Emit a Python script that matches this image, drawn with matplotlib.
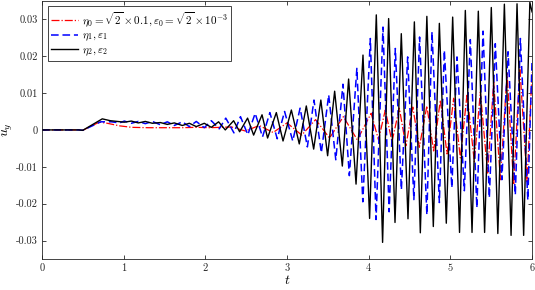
import numpy as np
import matplotlib
matplotlib.use("Agg")
import matplotlib.pyplot as plt

plt.rcParams['font.family'] = ['cmr10']
plt.rcParams['mathtext.fontset'] = 'cm'
plt.rcParams['axes.unicode_minus'] = False
plt.rcParams['axes.formatter.use_mathtext'] = False

# extrema of each response (t, u_y)
t0 = [0.0, 0.45, 0.50, 0.70, 0.80, 0.95, 1.10, 1.30, 1.50, 1.70, 1.90, 2.05,
      2.32, 2.49, 2.66, 2.83, 3.00, 3.18, 3.35, 3.52, 3.69, 3.86, 4.03, 4.12,
      4.203, 4.285, 4.375, 4.455, 4.540, 4.620, 4.712, 4.795, 4.877, 4.959,
      5.040, 5.122, 5.204, 5.293, 5.367, 5.456, 5.530, 5.612, 5.694, 5.775,
      5.850, 5.939, 6.0]
u0 = [0.0, 0.0, -0.0001, 0.0021, 0.0018, 0.0011, 0.0007, 0.0006, 0.0006, 0.0006, 0.0007, 0.0006,
      0.0008, -0.0003, 0.0012, -0.0007, 0.0019, -0.0014, 0.0028, -0.0022, 0.0036, -0.0027, 0.0045, -0.0027,
      0.0054, -0.0032, 0.0059, -0.0043, 0.0062, -0.0047, 0.0065, -0.0057, 0.0081, -0.0065,
      0.0086, -0.0076, 0.0097, -0.0086, 0.0103, -0.0117, 0.0130, -0.0135, 0.0153, -0.0149,
      0.0171, -0.0140, 0.0157]

t1 = [0.0, 0.45, 0.50, 0.72, 0.85, 0.95,
      1.008, 1.093, 1.179, 1.265, 1.351, 1.449, 1.534, 1.620, 1.718, 1.804, 1.889, 1.987, 2.073, 2.17,
      2.25, 2.35, 2.43, 2.52, 2.61, 2.70, 2.79, 2.88, 2.97, 3.07, 3.16, 3.249, 3.33, 3.420,
      3.51, 3.597, 3.685, 3.763, 3.855, 3.928, 4.02, 4.09, 4.175, 4.25, 4.326, 4.40,
      4.477, 4.553, 4.623, 4.712, 4.775, 4.865, 4.926, 5.018, 5.081, 5.171, 5.244, 5.324,
      5.400, 5.477, 5.550, 5.630, 5.706, 5.795, 5.857, 5.948, 6.0]
u1 = [0.0, 0.0, -0.0001, 0.0022, 0.0022, 0.0019,
      0.0024, 0.0018, 0.0023, 0.0017, 0.0023, 0.0014, 0.0022, 0.0012, 0.0022, 0.0009, 0.0023, 0.0006, 0.0025, 0.0003,
      0.0032, -0.0008, 0.0036, -0.0013, 0.0045, -0.0019, 0.0047, -0.0024, 0.0050, -0.0030, 0.0059, -0.0046, 0.0081, -0.0062,
      0.0095, -0.0081, 0.0124, -0.0124, 0.0167, -0.0195, 0.0248, -0.0243, 0.0279, -0.0222, 0.0221, -0.0162,
      0.0198, -0.0189, 0.0252, -0.0230, 0.0266, -0.0197, 0.0216, -0.0157, 0.0198, -0.0165, 0.0245, -0.0211,
      0.0268, -0.0184, 0.0234, -0.0135, 0.0212, -0.0176, 0.0248, -0.0190, 0.0190]

t2 = [0.0, 0.45, 0.50, 0.738, 0.836, 0.922,
      1.008, 1.093, 1.179, 1.265, 1.351, 1.449, 1.534, 1.620, 1.718, 1.804, 1.889, 1.987, 2.073, 2.162,
      2.244, 2.346, 2.420, 2.517, 2.591, 2.694, 2.762, 2.869, 2.951, 3.053, 3.150, 3.236, 3.326, 3.414,
      3.497, 3.583, 3.677, 3.754, 3.845, 3.930, 4.011, 4.093, 4.170, 4.244, 4.322, 4.399,
      4.481, 4.559, 4.632, 4.712, 4.791, 4.865, 4.950, 5.028, 5.112, 5.183, 5.265, 5.342,
      5.419, 5.501, 5.581, 5.661, 5.743, 5.816, 5.897, 5.973, 6.0]
u2 = [0.0, 0.0, -0.0001, 0.0030, 0.0025, 0.0023,
      0.0021, 0.0024, 0.0019, 0.0023, 0.0018, 0.0020, 0.0015, 0.0019, 0.0012, 0.0018, 0.0009, 0.0018, 0.0007, 0.0022,
      0.0, 0.0025, -0.0005, 0.0032, -0.0014, 0.0041, -0.0022, 0.0047, -0.0030, 0.0054, -0.0038, 0.0065, -0.0052, 0.0081,
      -0.0070, 0.0105, -0.0098, 0.0138, -0.0147, 0.0203, -0.0240, 0.0312, -0.0305, 0.0302, -0.0251, 0.0261,
      -0.0241, 0.0293, -0.0279, 0.0308, -0.0262, 0.0289, -0.0253, 0.0306, -0.0278, 0.0324, -0.0278, 0.0322,
      -0.0278, 0.0332, -0.0281, 0.0341, -0.0286, 0.0342, -0.0286, 0.0346, 0.0320]

labels = [r'$\eta_0=\sqrt{2}\times0.1,\varepsilon_0=\sqrt{2}\times10^{-3}$',
          r'$\eta_1,\varepsilon_1$',
          r'$\eta_2,\varepsilon_2$']
xticks = [0, 1, 2, 3, 4, 5, 6]
yticks = [-0.03, -0.02, -0.01, 0, 0.01, 0.02, 0.03]
ytick_labels = ['-0.03', '-0.02', '-0.01', '0', '0.01', '0.02', '0.03']

fig = plt.figure(figsize=(5.35, 2.9), dpi=100)
ax = fig.add_axes([0.0785, 0.107, 0.916, 0.89])

ax.plot(t0, u0, color='r', ls='-.', lw=0.9, label=labels[0])
ax.plot(t1, u1, color='b', ls=(0, (5, 2.5)), lw=1.1, label=labels[1])
ax.plot(t2, u2, color='k', ls='-', lw=1.0, label=labels[2])

ax.set_xlim(0, 6)
ax.set_ylim(-0.035, 0.035)
ax.set_xticks(xticks)
ax.set_yticks(yticks)
ax.set_yticklabels(ytick_labels)
ax.tick_params(direction='in', length=3, width=0.6, labelsize=7.5, pad=3,
               top=True, right=True, colors='0.15')
for s in ax.spines.values():
    s.set_color('0.15')
    s.set_linewidth(0.6)

ax.set_xlabel('$t$', fontsize=10, labelpad=1)
ax.set_ylabel('$u_y$', fontsize=10)
ax.yaxis.set_label_coords(-0.055, 0.5)

leg = ax.legend(loc='upper left', fontsize=8, fancybox=False, framealpha=1,
                borderpad=0.3, labelspacing=0.2, handlelength=2.4,
                handletextpad=0.4, borderaxespad=0.5)
leg.get_frame().set_edgecolor('0.15')
leg.get_frame().set_linewidth(0.6)

fig.savefig('out.png', dpi=100)
